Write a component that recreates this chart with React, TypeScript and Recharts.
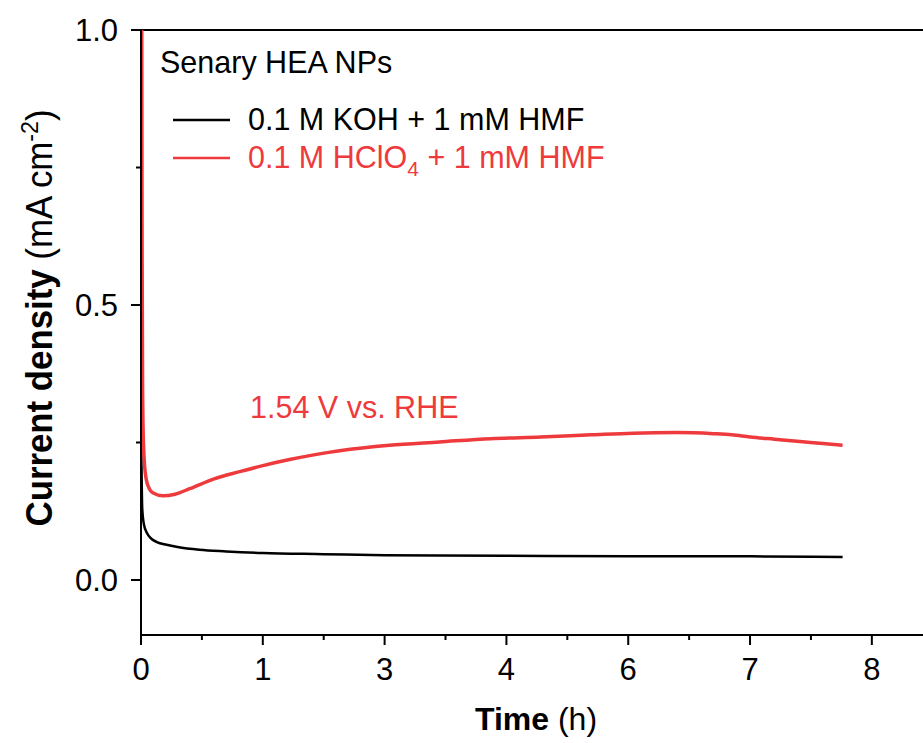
import React from 'react';
import { LineChart, Line, XAxis, YAxis, ReferenceLine } from 'recharts';

// x values are positions on the drawn axis (one unit per labelled tick)
const kohTime = [0, 0.01, 0.025, 0.05, 0.08, 0.13, 0.21, 0.3, 0.48, 0.7, 1.0, 1.5, 2.0, 3.0, 4.0, 5.0, 5.76];
const kohCurrent = [0.3, 0.13, 0.1, 0.085, 0.076, 0.069, 0.064, 0.06, 0.055, 0.052, 0.049, 0.047, 0.045, 0.044, 0.043, 0.043, 0.042];

const hclo4Time = [0.006, 0.009, 0.013, 0.02, 0.035, 0.06, 0.1, 0.18, 0.28, 0.4, 0.6, 0.81, 1.0, 1.22, 1.43, 1.63, 2.04, 2.45, 2.87, 3.28, 3.7, 4.04, 4.4, 4.7, 4.85, 5.0, 5.2, 5.41, 5.6, 5.76];
const hclo4Current = [1.0, 0.6, 0.35, 0.25, 0.195, 0.17, 0.158, 0.153, 0.156, 0.166, 0.184, 0.197, 0.208, 0.219, 0.228, 0.235, 0.245, 0.251, 0.257, 0.26, 0.264, 0.267, 0.268, 0.266, 0.264, 0.26, 0.256, 0.252, 0.248, 0.245];

const xTicks = [0, 0.5, 1, 1.5, 2, 2.5, 3, 3.5, 4, 4.5, 5, 5.5, 6];
const xTickLabels = ['0', '1', '3', '4', '6', '7', '8'];
const yTicks = [0, 0.25, 0.5, 0.75, 1.0];
const yTickLabels = ['0.0', '0.5', '1.0'];

const kohData = kohTime.map((t, i) => ({ t, j: kohCurrent[i] }));
const hclo4Data = hclo4Time.map((t, i) => ({ t, j: hclo4Current[i] }));

const FONT = '"Liberation Sans", Arial, sans-serif';
const RED = '#EE3A3D';
const TICK_SIZE = 10;
const TICK_MARGIN = 13;

const XTick = (props: any) => {
  const { x, y, payload } = props;
  const v = payload.value;
  const major = Number.isInteger(v);
  const axisY = y - TICK_SIZE - TICK_MARGIN;
  return (
    <g>
      <line x1={x} x2={x} y1={axisY} y2={axisY + (major ? TICK_SIZE : 5)} stroke="#000" strokeWidth={2} />
      {major && (
        <text x={x} y={y} dy="0.71em" textAnchor="middle" fontSize={31} fontFamily={FONT} fill="#000">
          {xTickLabels[v]}
        </text>
      )}
    </g>
  );
};

const YTick = (props: any) => {
  const { x, y, payload } = props;
  const v = payload.value;
  const idx = Math.round(v / 0.5 * 100) / 100;
  const major = Number.isInteger(idx);
  const axisX = x + TICK_SIZE + TICK_MARGIN;
  return (
    <g>
      <line x1={axisX} x2={axisX - (major ? TICK_SIZE : 5)} y1={y} y2={y} stroke="#000" strokeWidth={2} />
      {major && (
        <text x={x} y={y} dy="0.355em" textAnchor="end" fontSize={31} fontFamily={FONT} fill="#000">
          {yTickLabels[idx]}
        </text>
      )}
    </g>
  );
};

export default function App() {
  return (
    <div style={{ position: 'absolute', left: 0, top: 0, width: 923, height: 743, background: '#fff' }}>
      <LineChart width={923} height={743} margin={{ top: 30, right: 0, bottom: 58, left: 81 }}>
        <XAxis
          dataKey="t"
          type="number"
          domain={[0, 6.42]}
          ticks={xTicks}
          interval={0}
          height={50}
          tickSize={TICK_SIZE}
          tickMargin={TICK_MARGIN}
          tickLine={false}
          tick={<XTick />}
          axisLine={{ stroke: '#000', strokeWidth: 2 }}
          allowDataOverflow
        />
        <YAxis
          type="number"
          domain={[-0.1, 1.0]}
          ticks={yTicks}
          interval={0}
          width={60}
          tickSize={TICK_SIZE}
          tickMargin={TICK_MARGIN}
          tickLine={false}
          tick={<YTick />}
          axisLine={{ stroke: '#000', strokeWidth: 2 }}
          allowDataOverflow
        />
        <ReferenceLine y={1.0} stroke="#000" strokeWidth={2} />
        <Line
          data={kohData}
          dataKey="j"
          type="monotone"
          stroke="#000"
          strokeWidth={2.5}
          dot={false}
          isAnimationActive={false}
        />
        <Line
          data={hclo4Data}
          dataKey="j"
          type="monotone"
          stroke={RED}
          strokeWidth={3.5}
          dot={false}
          isAnimationActive={false}
        />
      </LineChart>
      <svg width={923} height={743} style={{ position: 'absolute', left: 0, top: 0, pointerEvents: 'none' }} fontFamily={FONT}>
        <text x={160} y={73} fontSize={30.5} fill="#000">Senary HEA NPs</text>
        <line x1={173} x2={230} y1={120} y2={120} stroke="#000" strokeWidth={2.5} />
        <text x={248} y={130} fontSize={30.5} fill="#000">0.1 M KOH + 1 mM HMF</text>
        <line x1={173} x2={230} y1={158} y2={158} stroke={RED} strokeWidth={2.5} />
        <text x={248} y={168} fontSize={30.5} fill={RED}>
          0.1 M HClO<tspan fontSize={21} dy={8}>4</tspan><tspan dy={-8}> + 1 mM HMF</tspan>
        </text>
        <text x={250} y={418} fontSize={30.5} fill={RED}>1.54 V vs. RHE</text>
        <text x={536} y={730} fontSize={32} fill="#000" textAnchor="middle">
          <tspan fontWeight="bold">Time</tspan> (h)
        </text>
        <text x={52} y={318} fontSize={36} fill="#000" textAnchor="middle" transform="rotate(-90 52 318)" textLength={417} lengthAdjust="spacingAndGlyphs">
          <tspan fontWeight="bold">Current density</tspan> (mA cm<tspan fontSize={24} dy={-14}>-2</tspan><tspan dy={14}>)</tspan>
        </text>
      </svg>
    </div>
  );
}
